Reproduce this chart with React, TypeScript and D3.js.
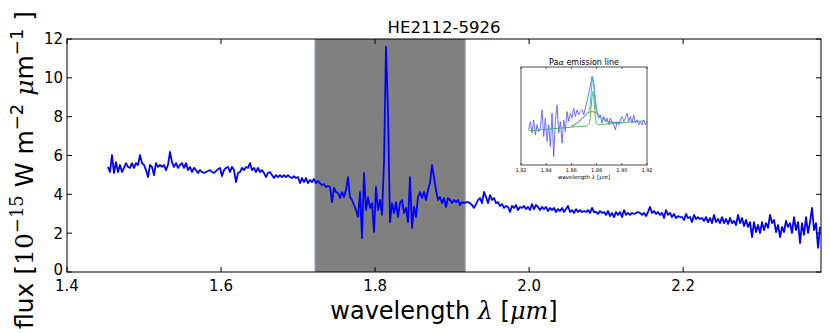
import React from 'react';
import * as d3 from 'd3';

const W = 830;
const H = 333;
const TITLE = 'HE2112-5926';
const X_TICKS = [1.4, 1.6, 1.8, 2.0, 2.2];
const Y_TICKS = [0, 2, 4, 6, 8, 10, 12];
const X_DOMAIN = [1.4, 2.379];
const Y_DOMAIN = [0, 12];
const BAND = [1.722, 1.917];

// spectrum (flux in 1e-15 W m^-2 um^-1) on a regular wavelength grid
const LAMBDA_START = 1.4532;
const LAMBDA_STEP = 0.002597;
const FLUX_A = [
  5.41, 5.15, 6.02, 5.10, 5.66, 5.15, 5.51, 5.15, 5.36, 5.61,
  5.41, 5.36, 5.61, 5.36, 5.61, 5.51, 6.02, 5.61, 5.51, 5.25,
  4.89, 5.51, 5.41, 4.99, 5.61, 5.41, 5.51, 5.41, 5.51, 5.25,
  5.51, 6.18, 5.66, 5.41, 5.61, 5.36, 5.51, 5.61, 5.36, 5.61,
  5.25, 5.41, 5.15, 5.36, 5.25, 5.10, 5.25, 5.15, 5.10, 5.15, 5.20,
];
const FLUX_B = [
  5.25, 5.15, 5.10, 5.20, 5.30, 5.36, 4.94, 5.25, 5.36, 5.41,
  5.15, 5.41, 5.25, 4.63, 5.10, 5.15, 5.36, 5.25, 5.41, 5.36,
  5.61, 5.25, 5.36, 5.15, 5.36, 5.15, 5.25, 5.10, 4.89, 5.10,
  5.15, 4.99, 4.84, 4.99, 4.89, 4.99, 4.89, 4.99, 4.89, 4.99,
  4.89, 4.84, 4.94, 4.84, 4.89, 4.58, 4.84, 4.63, 4.84, 4.58,
  4.74, 4.63, 4.79, 4.58, 4.69,
];
const FLUX_C = [
  4.58, 4.48, 4.53, 4.38, 4.43, 4.38, 3.60, 4.33, 4.12, 4.07,
  3.81, 4.12, 3.86, 4.22, 4.89, 3.86, 3.71, 3.45, 3.19, 2.83,
  4.12, 1.75, 5.10, 3.19, 3.86, 3.30, 3.55, 2.06, 4.38, 3.19,
  3.71, 2.94, 5.61, 11.6, 8.30, 2.57, 3.55, 3.04, 3.60, 2.83,
  3.55, 3.71, 3.04, 3.30, 2.57, 4.89, 2.27, 3.35, 2.83, 3.86,
  4.12, 3.81, 4.12, 3.71, 4.22, 4.58, 5.51, 4.89, 4.22, 3.71,
  3.86, 3.55, 3.81, 3.35, 3.81, 3.71, 3.55, 3.71, 3.60, 3.71,
  3.45, 3.60, 3.55, 3.60, 3.60, 3.55, 3.45, 3.30, 3.50, 3.70,
];
const FLUX_D = [
  3.81, 3.55, 4.12, 3.86, 3.55, 3.96, 3.71, 3.81, 3.55, 3.60,
  3.40, 3.50, 3.30, 3.40, 3.35, 3.09, 3.40, 3.30, 3.45, 3.19,
  3.35, 3.30, 3.40, 3.24, 3.35, 3.19, 3.50, 3.24, 3.45, 3.35,
  3.19, 3.35, 3.24, 3.35, 3.14, 3.30, 3.19, 3.30, 3.09, 3.24,
  3.14, 3.30, 3.09, 3.24, 3.40, 3.09, 3.19, 3.04, 3.24, 3.09,
  3.19, 3.09, 3.14, 3.09, 3.19, 3.04, 3.30, 3.09, 3.09, 2.99,
  3.14, 3.04, 3.09, 2.94, 3.14, 2.88, 3.04, 2.83, 3.09, 2.94,
  3.09, 2.83, 3.19, 2.94, 3.04, 2.94, 3.04, 2.99, 3.04, 3.09,
];
const FLUX_E = [
  3.04, 2.94, 3.04, 2.88, 3.09, 3.35, 3.04, 3.14, 2.99, 3.09,
  2.94, 3.04, 2.78, 3.19, 2.94, 3.04, 2.83, 2.99, 2.78, 2.88,
  2.83, 2.83, 2.68, 2.99, 2.78, 2.83, 2.57, 2.94, 2.73, 2.83,
  2.73, 2.78, 2.63, 2.83, 2.57, 2.78, 2.52, 2.94, 2.57, 2.73,
  2.52, 2.83, 2.52, 2.73, 2.47, 2.78, 2.52, 2.63, 2.42, 2.94,
  2.52, 2.78, 2.37, 2.68, 2.32, 2.57, 1.80, 2.57, 2.06, 2.42,
  2.01, 2.57, 2.16, 2.52, 2.27, 2.94, 2.52, 2.68, 2.06, 2.42,
  1.80, 2.32, 2.06, 2.63, 2.32, 2.52, 2.01, 2.83, 2.16, 2.57,
  1.49, 2.52, 1.91, 2.83, 2.01, 2.57, 3.30, 2.16, 2.52, 1.24, 2.32,
];
const FLUX = [...FLUX_A, ...FLUX_B, ...FLUX_C, ...FLUX_D, ...FLUX_E];

// inset: Pa-alpha zoom
const INSET_TITLE = 'Pa';
const INSET_X_TICKS = [1.82, 1.84, 1.86, 1.88, 1.90, 1.92];
const INSET_X_DOMAIN = [1.82, 1.92];
const INSET_Y_DOMAIN = [0, 10];
const INSET_LAMBDA_START = 1.8261;
const INSET_LAMBDA_STEP = 0.0013228;
const INSET_FLUX = [
  3.58, 4.44, 3.24, 4.61, 3.07, 4.10, 3.41, 3.75, 5.63, 2.90,
  4.78, 2.39, 4.10, 1.88, 5.29, 0.85, 4.44, 6.14, 3.24, 4.44,
  2.22, 4.61, 3.41, 5.46, 4.44, 5.29, 4.78, 5.80, 4.95, 5.63,
  5.12, 5.46, 5.63, 5.12, 5.80, 6.48, 7.34, 8.02, 9.04, 8.36,
  6.66, 5.46, 4.78, 5.12, 4.27, 4.95, 4.44, 4.78, 4.10, 4.78,
  4.44, 4.10, 3.58, 4.44, 4.10, 4.61, 4.95, 4.44, 4.78, 5.29,
  4.44, 4.95, 4.27, 5.12, 4.27, 4.61, 4.10, 4.44, 4.10, 4.61,
  4.10, 4.44,
];
const FIT_WL = [1.826, 1.84, 1.85, 1.86, 1.864, 1.868, 1.870, 1.872, 1.874, 1.875,
  1.876, 1.877, 1.878, 1.879, 1.880, 1.882, 1.886, 1.89, 1.90, 1.918];
const FIT_NARROW = [3.48, 3.64, 3.75, 3.86, 3.91, 3.95, 3.97, 4.00, 4.17, 4.89,
  6.48, 7.50, 6.50, 4.93, 4.23, 4.11, 4.15, 4.20, 4.31, 4.51];
const FIT_BROAD = [3.48, 3.64, 3.75, 3.96, 4.23, 4.68, 4.94, 5.19, 5.36, 5.42,
  5.44, 5.44, 5.40, 5.35, 5.27, 5.08, 4.65, 4.39, 4.31, 4.51];
const FIT_TOTAL = [3.48, 3.64, 3.75, 3.96, 4.23, 4.68, 4.94, 5.19, 5.51, 6.28,
  7.88, 8.89, 7.84, 6.21, 5.42, 5.08, 4.65, 4.39, 4.31, 4.51];

const SANS = 'DejaVu Sans, sans-serif';
const SERIF = 'DejaVu Serif, serif';

export default function App() {
  const L = 67, R = 821, T = 39, B = 272;
  const x = d3.scaleLinear().domain(X_DOMAIN).range([L, R]);
  const y = d3.scaleLinear().domain(Y_DOMAIN).range([B, T]);
  const spec = FLUX.map((f, i) => [LAMBDA_START + i * LAMBDA_STEP, f] as [number, number]);
  const line = d3.line<[number, number]>().x(d => x(d[0])).y(d => y(d[1]));

  const iL = 521, iR = 647, iT = 67, iB = 165;
  const ix = d3.scaleLinear().domain(INSET_X_DOMAIN).range([iL, iR]);
  const iy = d3.scaleLinear().domain(INSET_Y_DOMAIN).range([iB, iT]);
  const ispec = INSET_FLUX.map((f, i) => [INSET_LAMBDA_START + i * INSET_LAMBDA_STEP, f] as [number, number]);
  const iline = d3.line<[number, number]>().x(d => ix(d[0])).y(d => iy(d[1]));
  const fitLine = d3.line<[number, number]>().x(d => ix(d[0])).y(d => iy(d[1])).curve(d3.curveMonotoneX);
  const fit = (arr: number[], lo: number, hi: number) =>
    FIT_WL.map((w, i) => [w, arr[i]] as [number, number]).filter(d => d[0] >= lo && d[0] <= hi);

  const fx = d3.format('.1f');
  const fix = d3.format('.2f');

  return (
    <svg width={W} height={H} style={{ position: 'absolute', left: 0, top: 0, background: '#fff' }}
      fontFamily={SANS}>
      <defs>
        <clipPath id="plotclip"><rect x={L} y={T} width={R - L} height={B - T} /></clipPath>
      </defs>
      <rect x={0} y={0} width={W} height={H} fill="#fff" />
      {/* band */}
      <rect x={x(BAND[0])} y={T} width={x(BAND[1]) - x(BAND[0])} height={B - T} fill="#808080" />
      <line x1={x(BAND[0])} x2={x(BAND[0])} y1={T} y2={B} stroke="#8fa3c4" strokeWidth={1} />
      <line x1={x(BAND[1])} x2={x(BAND[1])} y1={T} y2={B} stroke="#8fa3c4" strokeWidth={1} />
      {/* spectrum */}
      <path d={line(spec) || ''} fill="none" stroke="#0000ff" strokeWidth={1.8}
        strokeLinejoin="round" clipPath="url(#plotclip)" />
      {/* axes frame */}
      <rect x={L} y={T} width={R - L} height={B - T} fill="none" stroke="#000" strokeWidth={1} />
      {X_TICKS.map(t => (
        <g key={'xt' + t}>
          <line x1={x(t)} x2={x(t)} y1={B} y2={B - 5} stroke="#000" />
          <line x1={x(t)} x2={x(t)} y1={T} y2={T + 5} stroke="#000" />
          <text x={x(t)} y={291} textAnchor="middle" fontSize={15} fill="#000">{fx(t)}</text>
        </g>
      ))}
      {Y_TICKS.map(t => (
        <g key={'yt' + t}>
          <line x1={L} x2={L + 5} y1={y(t)} y2={y(t)} stroke="#000" />
          <line x1={R} x2={R - 5} y1={y(t)} y2={y(t)} stroke="#000" />
          <text x={63} y={y(t)} dy={t === 0 ? '0.2em' : '0.36em'} textAnchor="end" fontSize={15} fill="#000">{t}</text>
        </g>
      ))}
      {/* title */}
      <text x={(L + R) / 2} y={33} textAnchor="middle" fontSize={16.5} fill="#000">{TITLE}</text>
      {/* x label */}
      <text x={(L + R) / 2} y={319} textAnchor="middle" fontSize={24} fill="#000">
        <tspan>wavelength </tspan>
        <tspan fontFamily={SERIF} fontStyle="italic">λ</tspan>
        <tspan> [</tspan>
        <tspan fontFamily={SERIF} fontStyle="italic">μm</tspan>
        <tspan>]</tspan>
      </text>
      {/* y label */}
      <text transform="translate(33,170) rotate(-90)" textAnchor="middle" fontSize={25} fill="#000">
        <tspan>flux [</tspan>
        <tspan fontFamily={SERIF}>10</tspan>
        <tspan dy={-10} fontSize={18} fontFamily={SERIF}>−15</tspan>
        <tspan dy={10}> W m</tspan>
        <tspan dy={-10} fontSize={18}>−2</tspan>
        <tspan dy={10}>  </tspan>
        <tspan fontFamily={SERIF} fontStyle="italic">μ</tspan>
        <tspan>m</tspan>
        <tspan dy={-10} fontSize={18}>−1</tspan>
        <tspan dy={10}> ]</tspan>
      </text>

      {/* inset */}
      <rect x={iL} y={iT} width={iR - iL} height={iB - iT} fill="#fff" stroke="#000" strokeWidth={0.7} />
      <path d={iline(ispec) || ''} fill="none" stroke="#6060ff" strokeWidth={0.9} />
      <path d={fitLine(fit(FIT_BROAD, 1.86, 1.90)) || ''} fill="none" stroke="#ff3030" strokeWidth={0.9} />
      <path d={fitLine(fit(FIT_TOTAL, 1.86, 1.90)) || ''} fill="none" stroke="#20c0d0" strokeWidth={0.9} />
      <path d={fitLine(fit(FIT_NARROW, 1.826, 1.918)) || ''} fill="none" stroke="#3cb043" strokeWidth={0.9} />
      {INSET_X_TICKS.map(t => (
        <g key={'ixt' + t}>
          <line x1={ix(t)} x2={ix(t)} y1={iB} y2={iB - 2} stroke="#000" strokeWidth={0.6} />
          <line x1={ix(t)} x2={ix(t)} y1={iT} y2={iT + 2} stroke="#000" strokeWidth={0.6} />
          <text x={ix(t)} y={172} textAnchor="middle" fontSize={5} fill="#000">{fix(t)}</text>
        </g>
      ))}
      <text x={(iL + iR) / 2} y={179} textAnchor="middle" fontSize={5.5} fill="#000">
        wavelength <tspan fontFamily={SERIF} fontStyle="italic">λ</tspan> [<tspan fontFamily={SERIF} fontStyle="italic">μm</tspan>]
      </text>
      <text x={(iL + iR) / 2} y={65} textAnchor="middle" fontSize={8} fill="#000">
        {INSET_TITLE}<tspan fontFamily={SERIF} fontStyle="italic">α</tspan> emission line
      </text>
    </svg>
  );
}
